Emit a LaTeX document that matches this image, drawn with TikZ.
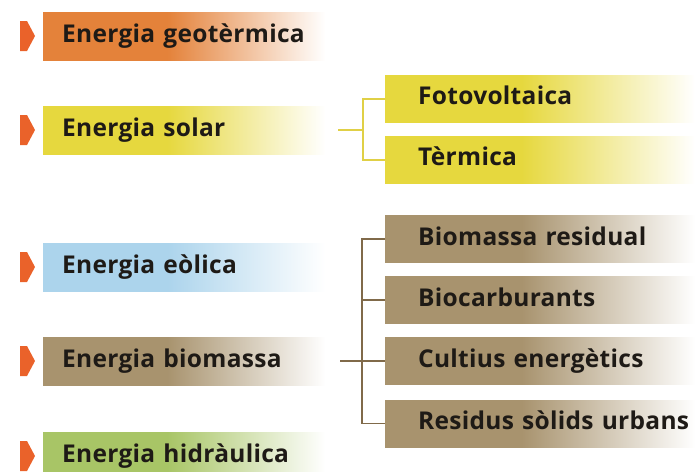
\documentclass[tikz,border=0pt]{standalone}
\usepackage{fontspec}
\setmainfont{Open Sans}[LetterSpace=1.2]

\definecolor{geocol}{RGB}{228,130,58}
\definecolor{solcol}{RGB}{230,216,62}
\definecolor{eolcol}{RGB}{172,212,236}
\definecolor{biocol}{RGB}{168,147,110}
\definecolor{hidcol}{RGB}{168,197,102}
\definecolor{pointcol}{RGB}{234,98,42}
\definecolor{solline}{RGB}{224,208,70}
\definecolor{bioline}{RGB}{128,106,74}
\definecolor{txtcol}{RGB}{30,26,22}

% colour that fades out to white on the right
\newcommand{\fadeshading}[2]{%
  \pgfdeclarehorizontalshading{#1}{100bp}{color(0bp)=(#2); color(25bp)=(#2);
    color(47bp)=(#2); color(75bp)=(white); color(100bp)=(white)}}
\fadeshading{geofade}{geocol}
\fadeshading{solfade}{solcol}
\fadeshading{eolfade}{eolcol}
\fadeshading{biofade}{biocol}
\fadeshading{hidfade}{hidcol}

\begin{document}
\begin{tikzpicture}[x=1pt, y=-1pt,
  every node/.style={font=\fontsize{24.5}{29}\selectfont\bfseries, text=txtcol},
  box/.style={anchor=west, shade, shading=#1, inner xsep=0pt, inner ysep=0pt,
    text height=17.5pt, text depth=5pt},
  leftbox/.style={box=#1, minimum height=48pt, text width=282pt,
    execute at begin node=\hspace*{19pt}},
  rightbox/.style={box=#1, minimum height=47pt, text width=310pt,
    execute at begin node=\hspace*{33pt}},
  pointer/.style={fill=pointcol},
  sollink/.style={draw=solline, line width=2pt},
  biolink/.style={draw=bioline, line width=1.4pt}]

      \clip (0,0) rectangle (695,471);

% Kinds of energy
      \node[leftbox=geofade] (geo) at (43,36) {Energia geotèrmica};
      \node[leftbox=solfade] (solar) at (43,130) {Energia solar};
      \node[leftbox=eolfade] (eol) at (43,267) {Energia eòlica};
      \node[leftbox=biofade] (biom) at (43,361) {Energia biomassa};
      \node[leftbox=hidfade] (hidr) at (43,456) {Energia hidràulica};

      \foreach \b in {geo,solar,eol,biom,hidr}
      \fill[pointer] (\b.west) ++(-23,-15) -- ++(7,0) -- ++(8,15) -- ++(-8,15) -- ++(-7,0) -- cycle;

% Solar branches
      \node[rightbox=solfade] (foto) at (385,98.5) {Fotovoltaica};
      \node[rightbox=solfade] (term) at (385,159.5) {Tèrmica};

      \coordinate (solj) at (363,130);
      \draw[sollink] ([xshift=13pt]solar.east) -- (solj);
      \draw[sollink] (foto.west) -| (solj) |- (term.west);

% Biomass branches
      \node[rightbox=biofade] (resid) at (385,239) {Biomassa residual};
      \node[rightbox=biofade] (carb) at (385,300) {Biocarburants};
      \node[rightbox=biofade] (cult) at (385,361) {Cultius energètics};
      \node[rightbox=biofade] (rsu) at (385,423.5) {Residus sòlids urbans};

      \coordinate (bioj) at (362,361);
      \draw[biolink] ([xshift=15pt]biom.east) -- (cult.west);
      \draw[biolink] (resid.west) -| (bioj) |- (rsu.west);
      \draw[biolink] (carb.west) -- (carb.west -| bioj);

    \end{tikzpicture}
\end{document}
